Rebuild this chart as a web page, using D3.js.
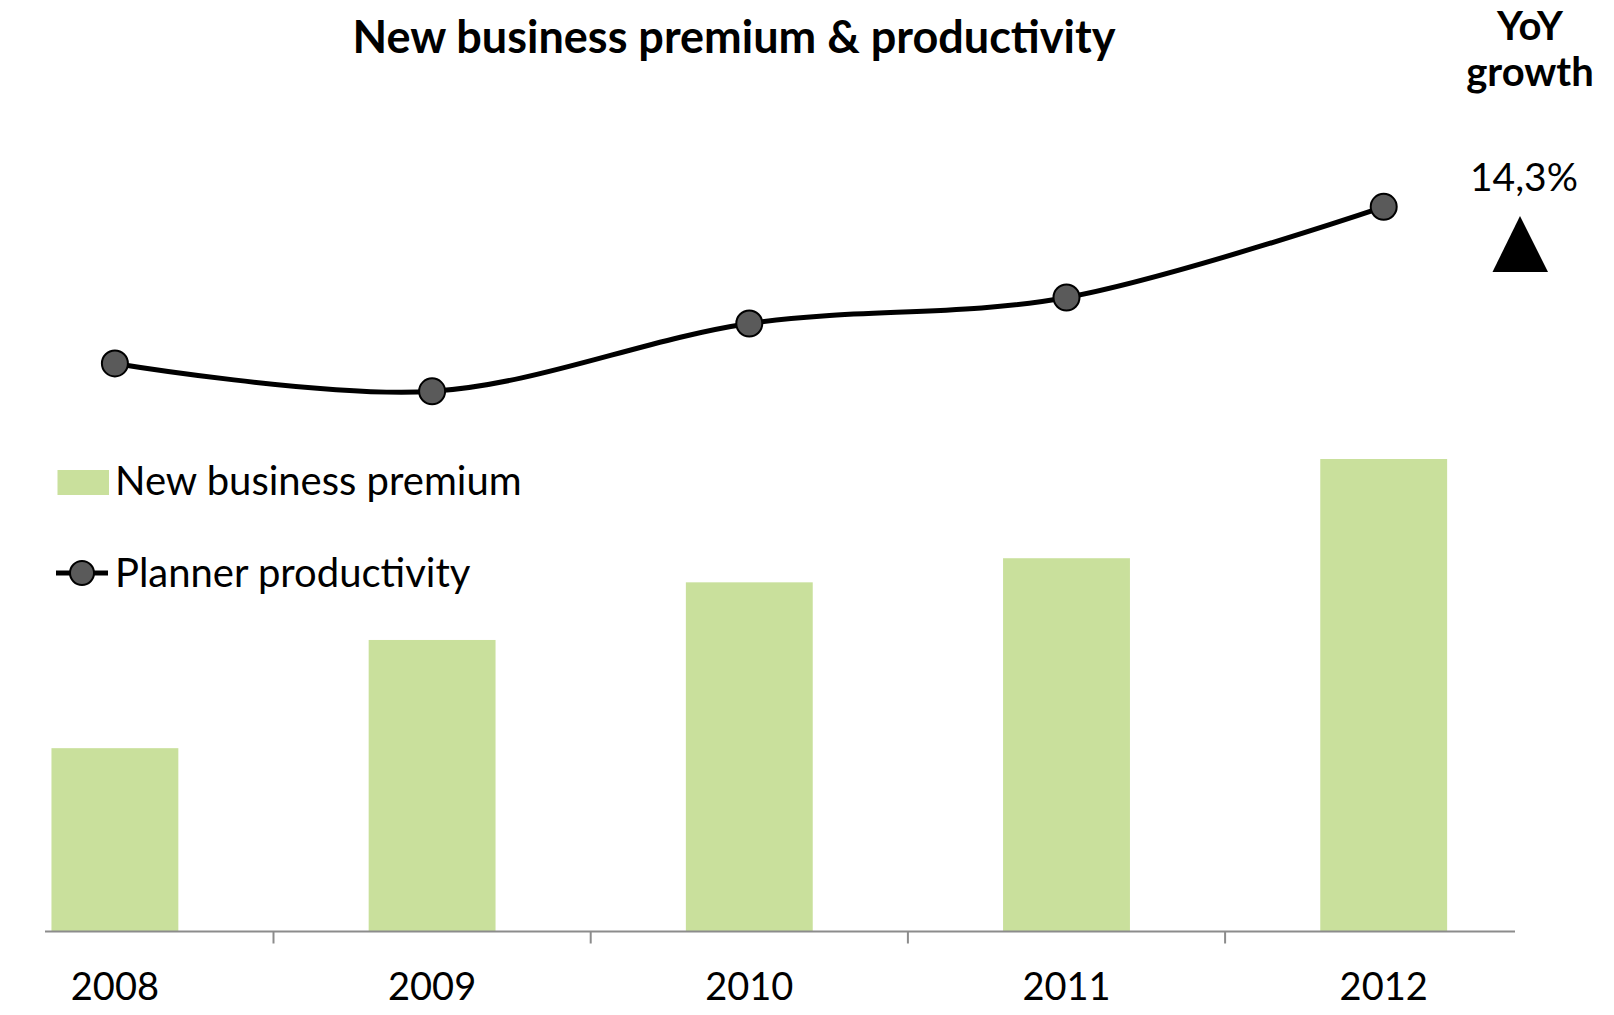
<!DOCTYPE html>
<html>
<head>
<meta charset="utf-8">
<script src="https://cdn.jsdelivr.net/npm/d3@7"></script>
<style>
  html, body { margin: 0; padding: 0; background: #fff; }
  svg { display: block; }
  text { font-family: Lato, "Open Sans", sans-serif; fill: #000; }
</style>
</head>
<body>
<svg id="chart" width="1614" height="1015"></svg>
<script>
// Years on the category axis
const years = ["2008", "2009", "2010", "2011", "2012"];
// New business premium (index, 2012 = 100)
const premium = [38.8, 61.7, 73.9, 79.0, 100.0];
// Planner productivity (index, 2011 = 100)
const productivity = [89.6, 85.2, 95.9, 100.0, 114.3];
// Year-on-year growth of productivity in the last year
const yoyGrowth = "14,3%";
const seriesNames = ["New business premium", "Planner productivity"];

const W = 1614, H = 1015;
const baseY = 931.5;
const svg = d3.select("#chart");

const x = d3.scaleBand()
  .domain(years)
  .range([-43.7, 1542.3])
  .paddingInner(0.6)
  .paddingOuter(0.3);

const yBar = d3.scaleLinear().domain([0, 100]).range([baseY, 459]);
const yLine = d3.scaleLinear().domain([0, 100]).range([baseY, 297.5]);

// Bars
svg.append("g").selectAll("rect")
  .data(years.map((y, i) => ({ year: y, v: premium[i] })))
  .join("rect")
  .attr("x", d => x(d.year))
  .attr("y", d => yBar(d.v))
  .attr("width", x.bandwidth())
  .attr("height", d => yBar(0) - yBar(d.v))
  .attr("fill", "#C9E09C");

// Category axis: labels from d3.axisBottom, tick marks between categories
const axisG = svg.append("g").attr("transform", `translate(0,${baseY})`);
axisG.call(d3.axisBottom(x).tickSize(0).tickPadding(0))
  .call(g => g.select(".domain").remove())
  .call(g => g.selectAll("text")
    .attr("dy", null)
    .attr("y", 68)
    .style("font-size", "38px")
    .style("font-family", "Lato, sans-serif")
    .attr("fill", "#000"));

axisG.append("line")
  .attr("x1", 45).attr("x2", 1515)
  .attr("y1", 0).attr("y2", 0)
  .attr("stroke", "#8C8C8C").attr("stroke-width", 2);

const gap = (x.step() - x.bandwidth()) / 2;
axisG.selectAll(".sep")
  .data(years.slice(1))
  .join("line")
  .attr("class", "sep")
  .attr("x1", d => x(d) - gap).attr("x2", d => x(d) - gap)
  .attr("y1", 0).attr("y2", 12)
  .attr("stroke", "#8C8C8C").attr("stroke-width", 2);

// Productivity line
const pts = years.map((y, i) => [x(y) + x.bandwidth() / 2, yLine(productivity[i])]);
svg.append("path")
  .attr("d", d3.line().curve(d3.curveCardinal.tension(0))(pts))
  .attr("fill", "none")
  .attr("stroke", "#000")
  .attr("stroke-width", 5);

svg.append("g").selectAll("circle")
  .data(pts)
  .join("circle")
  .attr("cx", d => d[0]).attr("cy", d => d[1])
  .attr("r", 13)
  .attr("fill", "#5A5A5A")
  .attr("stroke", "#000")
  .attr("stroke-width", 2);

// Title
svg.append("text")
  .attr("x", 734).attr("y", 53)
  .attr("text-anchor", "middle")
  .style("font-size", "45px").style("font-weight", "bold")
  .text("New business premium & productivity");

// Legend
const leg = svg.append("g");
leg.append("rect")
  .attr("x", 57.5).attr("y", 470).attr("width", 51.5).attr("height", 25)
  .attr("fill", "#C9E09C");
leg.append("text")
  .attr("x", 115).attr("y", 495)
  .style("font-size", "40px")
  .text(seriesNames[0]);
leg.append("line")
  .attr("x1", 56).attr("x2", 108).attr("y1", 573).attr("y2", 573)
  .attr("stroke", "#000").attr("stroke-width", 5);
leg.append("circle")
  .attr("cx", 82).attr("cy", 573).attr("r", 12)
  .attr("fill", "#5A5A5A").attr("stroke", "#000").attr("stroke-width", 2);
leg.append("text")
  .attr("x", 115).attr("y", 587)
  .style("font-size", "40px")
  .text(seriesNames[1]);

// YoY growth annotation
const yoy = svg.append("g");
yoy.append("text")
  .attr("x", 1530).attr("y", 40)
  .attr("text-anchor", "middle")
  .style("font-size", "40px").style("font-weight", "bold")
  .text("YoY");
yoy.append("text")
  .attr("x", 1530).attr("y", 86)
  .attr("text-anchor", "middle")
  .style("font-size", "40px").style("font-weight", "bold")
  .text("growth");
yoy.append("text")
  .attr("x", 1524).attr("y", 191)
  .attr("text-anchor", "middle")
  .style("font-size", "39px")
  .text(yoyGrowth);
yoy.append("path")
  .attr("d", d3.line()([[1520, 216], [1548, 272], [1492.5, 272]]) + "Z")
  .attr("fill", "#000");
</script>
</body>
</html>
